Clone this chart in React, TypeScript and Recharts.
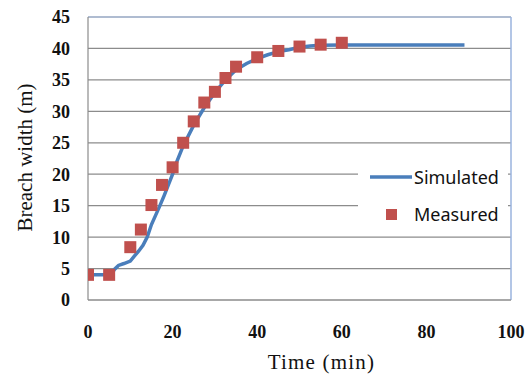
import React from 'react';
import {
  ComposedChart,
  Line,
  Scatter,
  XAxis,
  YAxis,
  CartesianGrid,
  Legend,
  ReferenceLine,
  Label,
} from 'recharts';

// Simulated breach width (m) vs time (min)
const simTime = [0, 5.5, 6.3, 7.2, 8.5, 10, 11, 12, 13, 14, 15, 16, 17, 18, 19, 20, 21, 22.5, 25, 27.5, 30, 32.5, 35, 37.5, 40, 42.5, 45, 47.5, 50, 52.5, 55, 60, 89];
const simWidth = [4, 4, 4.9, 5.5, 5.8, 6.2, 7, 7.8, 8.7, 10, 12, 13.5, 15, 16.6, 18.3, 20, 22, 24.5, 27.8, 30.6, 33, 35, 36.6, 37.6, 38.4, 39, 39.5, 39.8, 40.2, 40.4, 40.5, 40.55, 40.55];

// Measured breach width (m) vs time (min)
const measTime = [0, 5, 10, 12.5, 15, 17.5, 20, 22.5, 25, 27.5, 30, 32.5, 35, 40, 45, 50, 55, 60];
const measWidth = [4, 4, 8.4, 11.2, 15.1, 18.3, 21.1, 25, 28.4, 31.4, 33.1, 35.3, 37.1, 38.6, 39.6, 40.3, 40.6, 40.9];

const xTicks = [0, 20, 40, 60, 80, 100];
const yTicks = [0, 5, 10, 15, 20, 25, 30, 35, 40, 45];
const seriesNames = ['Simulated', 'Measured'];
const xTitle = 'Time (min)';
const yTitle = 'Breach width (m)';

const simData = simTime.map((t, i) => ({ t, w: simWidth[i] }));
const measData = measTime.map((t, i) => ({ t, w: measWidth[i] }));

const BLUE = '#4a7ebb';
const RED = '#c0504d';
const GRID = '#8c8c8c';
const FRAME = '#9ab3de';
const SERIF = 'Liberation Serif, Times New Roman, serif';

const tickStyle = {
  fontFamily: SERIF,
  fontSize: 18,
  fontWeight: 'bold' as const,
  fill: '#111',
};

const titleStyle = {
  fontFamily: SERIF,
  fontSize: 21,
  fill: '#111',
};

const renderLegend = (props: any) => {
  const payload: any[] = (props && props.payload) || [];
  const items = seriesNames.map((name) => {
    const p = payload.find((e) => e && e.value === name);
    return { name, color: p && p.color ? p.color : name === 'Simulated' ? BLUE : RED };
  });
  return (
    <svg width={150} height={62} style={{ display: 'block' }}>
      {items.map((it, i) => {
        const cy = 12 + i * 37;
        return (
          <g key={it.name}>
            {it.name === 'Simulated' ? (
              <line x1={12} x2={54} y1={cy} y2={cy} stroke={BLUE} strokeWidth={3.5} />
            ) : (
              <rect x={28} y={cy - 5} width={11} height={11} fill={RED} />
            )}
            <text
              x={56}
              y={cy}
              dominantBaseline="central"
              style={{ fontFamily: '"Noto Sans", "Open Sans", sans-serif', fontSize: 18, fill: '#111' }}
            >
              {it.name}
            </text>
          </g>
        );
      })}
    </svg>
  );
};

const SquareShape = (props: any) => {
  const { cx, cy } = props;
  if (cx == null || cy == null) return null;
  return <rect x={cx - 6} y={cy - 6} width={12} height={12} fill={RED} />;
};

export default function App() {
  return (
    <div style={{ position: 'absolute', left: 0, top: 0, width: 526, height: 377, background: '#fff' }}>
      <ComposedChart
        width={526}
        height={377}
        margin={{ top: 17, right: 15, left: 0, bottom: 0 }}
      >
        <CartesianGrid vertical={false} stroke={GRID} strokeWidth={1.2} />
        <XAxis
          dataKey="t"
          type="number"
          domain={[0, 100]}
          ticks={xTicks}
          allowDataOverflow
          height={77}
          tickLine={false}
          tickSize={0}
          tickMargin={25}
          axisLine={{ stroke: GRID, strokeWidth: 1.2 }}
          tick={tickStyle}
          label={
            <Label
              content={(p: any) => {
                const vb = p.viewBox || { x: 88, y: 300, width: 423, height: 77 };
                return (
                  <text
                    x={vb.x + vb.width / 2 + 22}
                    y={vb.y + 69}
                    textAnchor="middle"
                    style={{ ...titleStyle, letterSpacing: 1.2 }}
                  >
                    {xTitle}
                  </text>
                );
              }}
            />
          }
        />
        <YAxis
          dataKey="w"
          type="number"
          domain={[0, 45]}
          ticks={yTicks}
          width={88}
          tickLine={false}
          tickSize={0}
          tickMargin={18}
          axisLine={{ stroke: GRID, strokeWidth: 1.2 }}
          tick={tickStyle}
          label={
            <Label
              content={(p: any) => {
                const vb = p.viewBox || { x: 0, y: 17, width: 88, height: 283 };
                const cx = vb.x + 32;
                const cy = vb.y + vb.height / 2 - 1;
                return (
                  <text
                    x={cx}
                    y={cy}
                    textAnchor="middle"
                    transform={`rotate(-90, ${cx}, ${cy})`}
                    style={titleStyle}
                  >
                    {yTitle}
                  </text>
                );
              }}
            />
          }
        />
        <ReferenceLine y={45} stroke={FRAME} strokeWidth={1.2} />
        <ReferenceLine x={100} stroke={FRAME} strokeWidth={1.5} />
        <Legend
          layout="vertical"
          align="center"
          verticalAlign="middle"
          content={renderLegend}
          wrapperStyle={{ position: 'absolute', left: 358, top: 165, width: 150, height: 62, background: '#fff' }}
        />
        <Line
          name="Simulated"
          data={simData}
          dataKey="w"
          type="linear"
          stroke={BLUE}
          strokeWidth={3.5}
          dot={false}
          activeDot={false}
          legendType="line"
          isAnimationActive={false}
        />
        <Scatter
          name="Measured"
          data={measData}
          dataKey="w"
          fill={RED}
          shape={<SquareShape />}
          legendType="square"
          isAnimationActive={false}
        />
      </ComposedChart>
    </div>
  );
}
